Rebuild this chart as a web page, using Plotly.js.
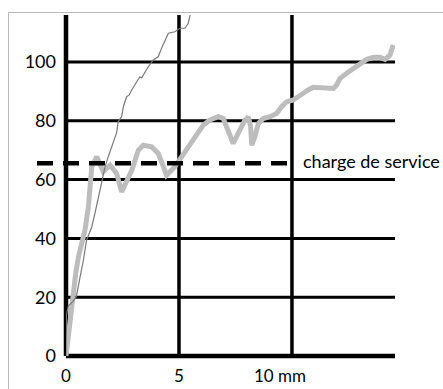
<!DOCTYPE html>
<html>
<head>
<meta charset="utf-8">
<script src="https://cdn.plot.ly/plotly-3.0.1.min.js"></script>
<style>
  html, body { margin: 0; padding: 0; background: #fff; }
  #chart { width: 443px; height: 389px; }
</style>
</head>
<body>
<div id="chart"></div>
<script>
// ---- data ----
const thickX = [0.0, 0.03, 0.10, 0.18, 0.25, 0.32, 0.43, 0.55, 0.69, 0.84, 0.99, 1.06, 1.14, 1.36, 1.50, 1.65, 1.95, 2.24, 2.46, 2.68, 2.91, 3.20, 3.42, 3.79, 4.08, 4.31, 4.45, 4.82, 5.12, 5.40, 5.70, 6.08, 6.37, 6.74, 6.96, 7.18, 7.40, 7.62, 7.92, 8.07, 8.17, 8.22, 8.36, 8.51, 8.73, 9.03, 9.32, 9.54, 9.77, 10.06, 10.35, 10.72, 10.94, 11.53, 11.83, 11.98, 12.12, 12.42, 12.71, 13.01, 13.31, 13.60, 13.89, 14.12, 14.34, 14.48];
const thickY = [0, 2, 5.3, 11, 16.7, 22.4, 28.1, 33.7, 38, 42.8, 50.7, 57.5, 64.3, 67.8, 65.5, 62.7, 64.9, 62.1, 55.8, 59.8, 63.2, 70, 71.7, 71.2, 68.9, 64.4, 61.5, 64.4, 67.8, 71, 74.5, 78.6, 80.3, 81.4, 80.8, 76.8, 72.3, 75.7, 80.3, 81.4, 78, 71.7, 74.6, 79.1, 80.8, 81.4, 82.5, 84.8, 86.5, 87.1, 88.8, 90.5, 91.4, 91.4, 91, 92.2, 94.4, 96.2, 97.9, 99.6, 100.9, 101.6, 101.6, 100.9, 102.4, 105.8];

const thinX = [0.0, 0.0, 0.02, 0.10, 0.30, 0.45, 0.55, 0.62, 0.77, 0.91, 1.14, 1.28, 1.43, 1.58, 1.73, 1.87, 2.02, 2.17, 2.24, 2.31, 2.46, 2.54, 2.68, 2.80, 2.91, 3.13, 3.27, 3.35, 3.50, 3.64, 3.86, 4.08, 4.23, 4.38, 4.53, 4.82, 5.04, 5.27, 5.41, 5.49, 5.55];
const thinY = [0, 8, 14, 17, 18.5, 20, 24, 25.7, 32.6, 39.4, 43.9, 48.5, 54.1, 59.8, 64.4, 67.8, 71.2, 74.6, 76, 79.7, 81.4, 84.8, 88.2, 88.8, 90.5, 93.3, 95, 94.6, 96.7, 98.4, 100.7, 101.8, 104.7, 107.5, 109.8, 110.3, 111.5, 111.5, 113.2, 116, 118];

const serviceLoad = 65.6;
const serviceLabel = "charge de service";

const yTickVals = [0, 20, 40, 60, 80, 100];
const yTickText = ["0", "20", "40", "60", "80", "100"];
const xTickVals = [0, 5, 10];
const xTickText = ["0", "5", "10 mm"];

// ---- layout helpers ----
const XR = [0, 14.56];
const YR = [0, 116];
const W = 443, H = 389;
const M = {l: 66, r: 48, t: 15, b: 33};
const plotW = W - M.l - M.r, plotH = H - M.t - M.b;
const px = v => (v - XR[0]) / (XR[1] - XR[0]);
const py = v => (v - YR[0]) / (YR[1] - YR[0]);
const pxFromPixel = p => (p - M.l) / plotW;
const pyFromPixel = p => (H - M.b - p) / plotH;

const FONT = "Lato, 'Open Sans', sans-serif";

const shapes = [];
// outer light frame
shapes.push({type: 'rect', xref: 'paper', yref: 'paper', layer: 'below',
  x0: pxFromPixel(8.5), x1: pxFromPixel(460), y0: pyFromPixel(420), y1: pyFromPixel(12.5),
  line: {color: '#b8b8b8', width: 1}, fillcolor: 'rgba(0,0,0,0)'});
// horizontal grid lines
yTickVals.filter(v => v > 0).forEach(v => shapes.push({type: 'line', xref: 'paper', yref: 'paper', layer: 'below',
  x0: 0, x1: 1, y0: py(v), y1: py(v), line: {color: '#000', width: 3}}));
// vertical grid lines
xTickVals.filter(v => v > 0).forEach(v => shapes.push({type: 'line', xref: 'paper', yref: 'paper', layer: 'below',
  x0: px(v), x1: px(v), y0: 0, y1: 1, line: {color: '#000', width: 3.5}}));
// axes
shapes.push({type: 'line', xref: 'paper', yref: 'paper', layer: 'below', x0: 0, x1: 1, y0: py(0), y1: py(0), line: {color: '#000', width: 4.5}});
shapes.push({type: 'line', xref: 'paper', yref: 'paper', layer: 'below', x0: px(0), x1: px(0), y0: 0, y1: 1, line: {color: '#000', width: 4.5}});
// service load dashed line (above traces)
shapes.push({type: 'line', xref: 'paper', yref: 'paper', layer: 'above',
  x0: pxFromPixel(37), x1: pxFromPixel(288), y0: py(serviceLoad), y1: py(serviceLoad),
  line: {color: '#000', width: 4.5, dash: '16px,10px'}});

const annotations = xTickVals.map((v, i) => ({
  xref: 'x', yref: 'paper', x: v, y: 0, yanchor: 'top', xanchor: 'center',
  xshift: i === xTickVals.length - 1 ? -12 : 0, yshift: -8, borderpad: 0,
  text: xTickText[i], showarrow: false, font: {family: FONT, size: 17, color: '#000'}
}));
annotations.push({xref: 'paper', yref: 'y', x: pxFromPixel(301), y: serviceLoad,
  xanchor: 'left', yanchor: 'middle', yshift: 2, text: serviceLabel, showarrow: false,
  font: {family: FONT, size: 18, color: '#000'}});

const traces = [
  {x: thickX, y: thickY, type: 'scatter', mode: 'lines', line: {color: '#bdbdbd', width: 5}, hoverinfo: 'skip'},
  {x: thinX, y: thinY, type: 'scatter', mode: 'lines', line: {color: '#7a7a7a', width: 1.2}, hoverinfo: 'skip'}
];

const layout = {
  width: W, height: H, margin: M, showlegend: false,
  paper_bgcolor: '#fff', plot_bgcolor: 'rgba(0,0,0,0)',
  font: {family: FONT, size: 18, color: '#000'},
  xaxis: {range: XR, showgrid: false, zeroline: false, showline: false, showticklabels: false, ticks: '', fixedrange: true},
  yaxis: {range: YR, showgrid: false, zeroline: false, showline: false, ticks: '',
    tickvals: yTickVals, ticktext: yTickText, ticklabelstandoff: 9,
    tickfont: {family: FONT, size: 18, color: '#000'}, fixedrange: true},
  shapes: shapes, annotations: annotations
};

Plotly.newPlot('chart', traces, layout, {displayModeBar: false, staticPlot: true});
</script>
</body>
</html>
